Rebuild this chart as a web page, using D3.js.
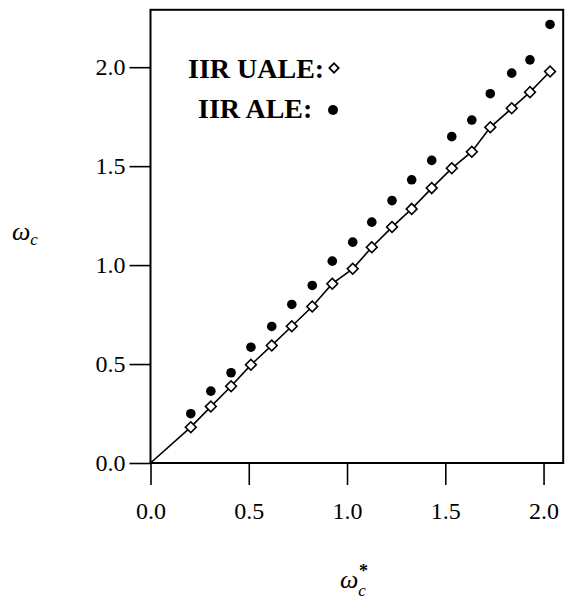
<!DOCTYPE html>
<html>
<head>
<meta charset="utf-8">
<script src="https://cdn.jsdelivr.net/npm/d3@7"></script>
<style>
  html, body { margin: 0; padding: 0; background: #ffffff; }
  svg { display: block; }
  text { font-family: "Liberation Serif", "Times New Roman", serif; fill: #000; }
</style>
</head>
<body>
<svg id="chart" width="574" height="599"></svg>
<script>
// normalized target cutoff vs. estimated cutoff
const wStar = [0.205, 0.307, 0.41, 0.511, 0.617, 0.719, 0.823, 0.925, 1.029, 1.126,
  1.229, 1.329, 1.431, 1.533, 1.635, 1.729, 1.838, 1.931, 2.033];
const uale = [0.181, 0.285, 0.388, 0.496, 0.594, 0.691, 0.791, 0.906, 0.981, 1.09,
  1.192, 1.284, 1.389, 1.489, 1.573, 1.696, 1.792, 1.874, 1.978];
const ale = [0.249, 0.363, 0.456, 0.585, 0.69, 0.801, 0.897, 1.02, 1.116, 1.217,
  1.326, 1.431, 1.529, 1.649, 1.733, 1.866, 1.97, 2.037, 2.216];
const xTicks = [0, 0.5, 1.0, 1.5, 2.0];
const yTicks = [0, 0.5, 1.0, 1.5, 2.0];
const legendLabels = ["IIR UALE:", "IIR ALE:"];

const svg = d3.select("#chart");

const x = d3.scaleLinear().domain([0, 2.1]).range([150.5, 563.2]);
const y = d3.scaleLinear().domain([0, 2.29]).range([463, 9.8]);

const TICK_FONT = 24;

// frame
svg.append("rect")
  .attr("x", x(0))
  .attr("y", y(2.29))
  .attr("width", x(2.1) - x(0))
  .attr("height", y(0) - y(2.29))
  .attr("fill", "none")
  .attr("stroke", "#000")
  .attr("stroke-width", 2);

const xAxis = svg.append("g")
  .attr("transform", `translate(0,${y(0)})`)
  .call(d3.axisBottom(x).tickValues(xTicks).tickFormat(d3.format(".1f"))
    .tickSize(22).tickPadding(17));

const yAxis = svg.append("g")
  .attr("transform", `translate(${x(0)},0)`)
  .call(d3.axisLeft(y).tickValues(yTicks).tickFormat(d3.format(".1f"))
    .tickSize(21).tickPadding(4));

[xAxis, yAxis].forEach((g) => {
  g.select(".domain").remove();
  g.selectAll(".tick line").attr("stroke", "#000").attr("stroke-width", 1.6);
  g.selectAll(".tick text")
    .style("font-family", "'Liberation Serif', serif")
    .style("font-size", `${TICK_FONT}px`)
    .attr("fill", "#000");
});

// UALE curve: from origin through the diamonds
const linePts = [[0, 0]].concat(wStar.map((w, i) => [w, uale[i]]));
svg.append("path")
  .datum(linePts)
  .attr("fill", "none")
  .attr("stroke", "#000")
  .attr("stroke-width", 1.6)
  .attr("d", d3.line().x((d) => x(d[0])).y((d) => y(d[1])));

const diamond = d3.symbol().type(d3.symbolSquare).size(58);

svg.append("g")
  .selectAll("path")
  .data(wStar.map((w, i) => [w, uale[i]]))
  .join("path")
  .attr("d", diamond)
  .attr("transform", (d) => `translate(${x(d[0])},${y(d[1])}) rotate(45)`)
  .attr("fill", "#fff")
  .attr("stroke", "#000")
  .attr("stroke-width", 1.6);

svg.append("g")
  .selectAll("circle")
  .data(wStar.map((w, i) => [w, ale[i]]))
  .join("circle")
  .attr("cx", (d) => x(d[0]))
  .attr("cy", (d) => y(d[1]))
  .attr("r", 4.8)
  .attr("fill", "#000");

// legend
const legend = svg.append("g");
legend.append("text")
  .attr("x", 188).attr("y", 78)
  .style("font-size", "28px").style("font-weight", "bold")
  .text(legendLabels[0]);
legend.append("path")
  .attr("d", d3.symbol().type(d3.symbolSquare).size(44))
  .attr("transform", "translate(334,68) rotate(45)")
  .attr("fill", "#fff").attr("stroke", "#000").attr("stroke-width", 1.8);
legend.append("text")
  .attr("x", 198).attr("y", 118)
  .style("font-size", "28px").style("font-weight", "bold")
  .text(legendLabels[1]);
legend.append("circle")
  .attr("cx", 333).attr("cy", 110).attr("r", 5)
  .attr("fill", "#000");

// axis titles
const yTitle = svg.append("text")
  .attr("x", 12).attr("y", 240)
  .style("font-style", "italic").style("font-size", "26px");
yTitle.append("tspan").text("ω");
yTitle.append("tspan").attr("dy", 5).style("font-size", "17px").text("c");

const xTitle = svg.append("text")
  .attr("x", 340).attr("y", 588)
  .style("font-style", "italic").style("font-size", "26px");
xTitle.append("tspan").text("ω");
xTitle.append("tspan").attr("dy", 8).style("font-size", "17px").text("c");
xTitle.append("tspan").attr("dx", -7).attr("dy", -19)
  .style("font-size", "18px").style("font-style", "normal").style("font-weight", "bold")
  .text("*");
</script>
</body>
</html>
